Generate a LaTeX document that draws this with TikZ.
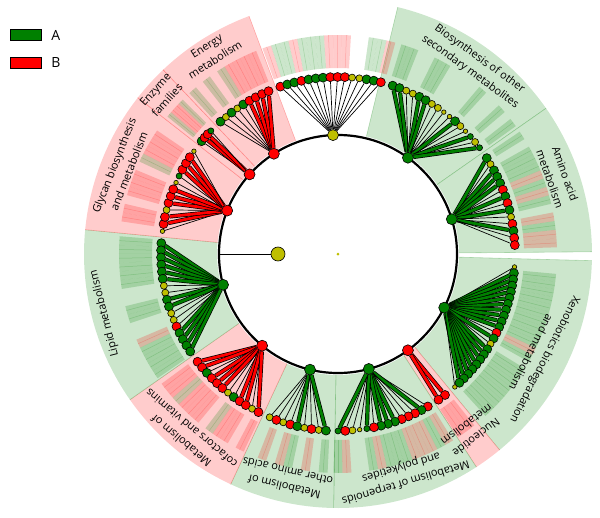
\documentclass[tikz,border=0pt]{standalone}
\usepackage{fontspec}
\setmainfont{Open Sans}
\usetikzlibrary{positioning}
\definecolor{cG}{RGB}{0,128,0}
\definecolor{cR}{RGB}{255,0,0}
\definecolor{cY}{RGB}{191,191,0}
\definecolor{shG}{RGB}{204,230,204}
\definecolor{shR}{RGB}{255,204,204}
\pgfdeclarelayer{shade}
\pgfdeclarelayer{edges}
\pgfsetlayers{shade,edges,main}
\tikzset{
    dot/.style={circle, draw=black, line width=0.6pt, inner sep=0pt},
    cladeG/.style={dot, fill=cG, minimum size=11pt},
    cladeR/.style={dot, fill=cR, minimum size=11pt},
    cladeY/.style={dot, fill=cY, minimum size=11pt},
    leafG/.style={dot, fill=cG, minimum size=9pt},
    leafg/.style={dot, fill=cG, minimum size=6pt},
    leafR/.style={dot, fill=cR, minimum size=9pt},
    leafr/.style={dot, fill=cR, minimum size=6pt},
    leafY/.style={dot, fill=cY, minimum size=7pt},
    leafy/.style={dot, fill=cY, minimum size=4.5pt},
    thin edge/.style={draw=black, line width=0.7pt},
    thick edge/.style={draw=black, line width=0.7pt, double=#1, double distance=2.8pt},
    edgeGG/.style={thick edge=cG}, edgeGg/.style={thick edge=cG},
    edgeGR/.style={thin edge}, edgeGr/.style={thin edge},
    edgeGY/.style={thin edge}, edgeGy/.style={thin edge},
    edgeRR/.style={thick edge=cR}, edgeRr/.style={thick edge=cR},
    edgeRG/.style={thin edge}, edgeRg/.style={thin edge},
    edgeRY/.style={thin edge}, edgeRy/.style={thin edge},
    edgeYG/.style={thin edge}, edgeYg/.style={thin edge},
    edgeYR/.style={thin edge}, edgeYr/.style={thin edge},
    edgeYY/.style={thin edge}, edgeYy/.style={thin edge},
    stripeG/.style={fill=cG, fill opacity=0.2}, stripeg/.style={stripeG},
    stripeR/.style={fill=cR, fill opacity=0.2}, striper/.style={stripeR},
    stripeY/.style={fill=none}, stripey/.style={fill=none},
    slineG/.style={draw=cG, draw opacity=0.2, line width=0.5pt}, slineg/.style={slineG},
    slineR/.style={draw=cR, draw opacity=0.2, line width=0.5pt}, sliner/.style={slineR},
    slineY/.style={draw=none}, sliney/.style={draw=none},
    sepline/.style={draw=#1, draw opacity=0.25, line width=0.6pt},
    lbl/.style={align=center, inner sep=0pt},
    legbox/.style={draw=black, line width=0.8pt, minimum width=31pt, minimum height=11pt, inner sep=0pt},
}

\begin{document}
\begin{tikzpicture}[x=1pt, y=1pt, font=\fontsize{11}{16}\selectfont]
    \useasboundingbox (-338,-263) rectangle (262,254);

    % clade sectors
    \begin{pgfonlayer}{shade}
    \foreach \s/\e/\col/\lc in {76.4/35/shG/cG, 35/0.5/shG/cG, -1.5/-50.5/shG/cG,
        -50.5/-57/shR/cR, -57/-91/shG/cG, -91/-115/shG/cG, -115/-145/shR/cR,
        -145/-185.5/shG/cG, 174.5/142/shR/cR, 142/133.5/shR/cR, 133.5/110.5/shR/cR}{
      \fill[\col] (\s:121) -- (\s:254) arc[start angle=\s, end angle=\e, radius=254pt]
        -- (\e:121) arc[start angle=\e, end angle=\s, radius=121pt] -- cycle;
      \draw[sepline=\lc] (\s:121) -- (\s:254);
      \draw[sepline=\lc] (\e:121) -- (\e:254);
    }
    \end{pgfonlayer}

    % ring and root
    \begin{pgfonlayer}{edges}
      \draw[line width=2.2pt] (0,0) circle[radius=119pt];
    \end{pgfonlayer}
    \node[dot, fill=cY, minimum size=3pt, line width=0pt, draw=none] (center) at (0,0) {};
    \node[dot, fill=cY, minimum size=14pt] (root) at (180:60) {};
    \coordinate (rootring) at (180:119);
    \begin{pgfonlayer}{edges}
      \draw[thin edge] (root) -- (rootring);
    \end{pgfonlayer}

    % clades: id / node angle / colour / first leaf / last leaf / count / leaves
    \foreach \k/\na/\nc/\a/\b/\n/\leaves in {
        1/92.4/Y/109/76/15/{R,G,G,R,G,G,G,R,R,R,Y,Y,G,G,R},
        2/54/G/72/36.9/16/{G,G,Y,Y,G,G,Y,Y,y,y,G,Y,y,g,Y,g},
        3/17/G/32.8/2.9/14/{G,Y,G,G,G,R,G,R,G,Y,R,G,R,R},
        4/-26.8/G/-4.2/-48.7/23/{y,G,G,G,G,G,G,G,G,G,G,R,G,Y,G,G,G,G,G,G,G,G,y},
        5/-54/R/-52.8/-55.4/2/{R,R},
        6/-75/G/-59.5/-90/14/{R,G,R,R,R,G,G,G,R,g,y,Y,R,g},
        7/-103.6/G/-112.7/-93.9/9/{Y,R,Y,R,G,Y,R,Y,G},
        8/-129.6/R/-142.5/-116.7/12/{R,R,G,R,R,R,Y,G,R,R,Y,R},
        9/-165/G/176.5/213.4/17/{G,G,G,G,G,G,Y,Y,G,G,Y,Y,R,G,G,G,G},
        10/158.6/R/172.6/144.5/13/{y,R,R,Y,R,R,R,y,g,R,R,R,y},
        11/138/R/140.4/135.9/4/{G,R,R,g},
        12/122.6/R/131.6/113.1/9/{G,Y,G,Y,G,R,R,R,R}}{
      \node[clade\nc] (c\k) at (\na:119) {};
      \pgfmathsetmacro\hw{0.5*abs(\b-\a)/(\n-1)}
      \foreach \l [count=\i] in \leaves {
        \pgfmathsetmacro\t{\a+(\i-1)*(\b-\a)/(\n-1)}
        \node[leaf\l] (c\k-\i) at (\t:177) {};
        \begin{pgfonlayer}{edges}
          \draw[edge\nc\l] (c\k) -- (c\k-\i);
        \end{pgfonlayer}
        \begin{pgfonlayer}{shade}
          \fill[stripe\l] (\t-\hw:186) -- (\t-\hw:219)
            arc[start angle=\t-\hw, end angle=\t+\hw, radius=219pt]
            -- (\t+\hw:186) arc[start angle=\t+\hw, end angle=\t-\hw, radius=186pt] -- cycle;
          \draw[sline\l] (\t:186) -- (\t:219);
        \end{pgfonlayer}
      }
    }

    % clade labels
    \foreach \t/\r/\txt [count=\j] in {
        54/233/{Biosynthesis of other\\secondary metabolites},
        19.5/233/{Amino acid\\metabolism},
        -27/225/{Xenobiotics biodegradation\\and metabolism},
        -53/222/{Nucleotide\\metabolism},
        -73.5/230/{Metabolism of terpenoids\\and polyketides},
        -103/231/{Metabolism of\\other amino acids},
        -130/236/{Metabolism of\\cofactors and vitamins},
        194.3/241/{Lipid metabolism},
        158.4/233/{Glycan biosynthesis\\and metabolism},
        138/238/{Enzyme\\families},
        122.3/238/{Energy\\metabolism}}{
      \node[lbl, rotate=\t-90] (lab\j) at (\t:\r) {\txt};
    }

    % legend
    \node[legbox, fill=cG] (legA) at (-312,219) {};
    \node[legbox, fill=cR, below=16pt of legA] (legB) {};
    \node[right=6pt of legA, font=\fontsize{14}{16}\selectfont] (txtA) {A};
    \node[right=6pt of legB, font=\fontsize{14}{16}\selectfont] (txtB) {B};
\end{tikzpicture}
\end{document}
